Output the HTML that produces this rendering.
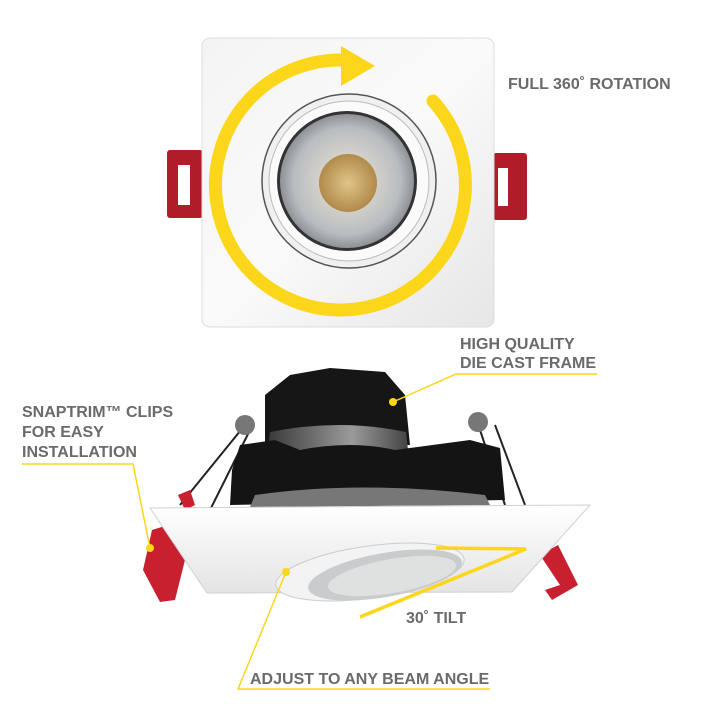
<!DOCTYPE html>
<html><head><meta charset="utf-8"><style>
html,body{margin:0;padding:0;background:#fff;width:720px;height:720px;overflow:hidden}
svg text{font-family:"Liberation Sans",Arial,sans-serif;font-weight:bold;fill:#6a6a6a;font-size:16px}
</style></head><body>
<svg width="720" height="720" viewBox="0 0 720 720" xmlns="http://www.w3.org/2000/svg">
<defs>
<linearGradient id="pl" x1="0" y1="0" x2="1" y2="1"><stop offset="0" stop-color="#f4f4f4"/><stop offset="0.5" stop-color="#fafafa"/><stop offset="1" stop-color="#e6e6e6"/></linearGradient>
<radialGradient id="lens" cx="0.5" cy="0.5" r="0.5"><stop offset="0.35" stop-color="#d8d4cc"/><stop offset="0.8" stop-color="#b8bcc0"/><stop offset="1" stop-color="#8e9296"/></radialGradient>
<radialGradient id="cob" cx="0.5" cy="0.5" r="0.5"><stop offset="0" stop-color="#e0c48a"/><stop offset="1" stop-color="#b08a4a"/></radialGradient>
<linearGradient id="pl2" x1="0" y1="0" x2="0" y2="1"><stop offset="0" stop-color="#ffffff"/><stop offset="1" stop-color="#e4e4e4"/></linearGradient>
<linearGradient id="dome" x1="0" y1="0" x2="1" y2="0"><stop offset="0" stop-color="#3a3a3a"/><stop offset="0.6" stop-color="#9a9a9a"/><stop offset="1" stop-color="#444"/></linearGradient>
</defs>
<rect x="167" y="150" width="36" height="68" rx="3" fill="#b01c2a"/>
<rect x="178" y="165" width="12" height="40" fill="#fff"/>
<rect x="493" y="153" width="34" height="67" rx="3" fill="#b01c2a"/>
<rect x="498" y="168" width="10" height="38" fill="#fff"/>
<rect x="202" y="38" width="292" height="289" rx="8" fill="url(#pl)" stroke="#dcdcdc"/>
<circle cx="349" cy="181" r="87" fill="#f0f0f0" stroke="#555" stroke-width="1.5"/>
<circle cx="349" cy="181" r="80" fill="#fafafa" stroke="#bbb"/>
<circle cx="347" cy="181" r="70" fill="#333"/>
<circle cx="347" cy="181" r="67" fill="url(#lens)"/>
<circle cx="348" cy="183" r="29" fill="url(#cob)"/>
<path d="M 433 101 A 125 125 0 1 1 342 60" fill="none" stroke="#fcd61a" stroke-width="13" stroke-linecap="round"/>
<polygon points="341,46 375,66 341,86" fill="#fcd61a"/>
<text x="508" y="89">FULL 360˚ ROTATION</text>
<line x1="245" y1="425" x2="180" y2="505" stroke="#222" stroke-width="2"/>
<line x1="250" y1="430" x2="210" y2="510" stroke="#222" stroke-width="2"/>
<line x1="495" y1="425" x2="525" y2="505" stroke="#222" stroke-width="2"/>
<line x1="480" y1="430" x2="505" y2="505" stroke="#222" stroke-width="2"/>
<circle cx="245" cy="425" r="10" fill="#777"/>
<circle cx="478" cy="422" r="10" fill="#777"/>
<path d="M265 395 L290 375 L330 368 L385 372 L405 395 L410 445 L265 445 Z" fill="#161616"/>
<path d="M270 432 Q340 418 406 432 L408 450 L268 450 Z" fill="url(#dome)"/>
<path d="M232 470 L240 445 L275 440 L300 450 Q350 440 395 450 L470 440 L500 448 L505 500 L230 505 Z" fill="#141414"/>
<path d="M255 495 Q360 480 485 495 L490 505 L250 507 Z" fill="#777"/>
<path d="M178 495 L190 490 L195 505 L185 510 Z" fill="#c8202e"/>
<path d="M152 530 L165 526 L185 560 L175 600 L160 602 L143 570 Z" fill="#c8202e"/>
<path d="M540 555 L558 545 L578 585 L552 600 L545 590 L560 585 Z" fill="#c8202e"/>
<polygon points="150,508 590,505 512,592 207,593" fill="url(#pl2)" stroke="#d0d0d0"/>
<ellipse cx="370" cy="572" rx="95" ry="26" transform="rotate(-8 370 572)" fill="#f3f3f3" stroke="#ccc"/>
<ellipse cx="385" cy="575" rx="78" ry="22" transform="rotate(-10 385 575)" fill="#c9cbcc"/>
<ellipse cx="392" cy="576" rx="65" ry="17" transform="rotate(-10 392 576)" fill="#dfe0e0"/>
<text x="460" y="349">HIGH QUALITY</text>
<text x="460" y="368">DIE CAST FRAME</text>
<polyline points="597,374 456,374 393,402" fill="none" stroke="#fcd61a" stroke-width="1.5"/>
<circle cx="393" cy="402" r="4" fill="#fcd61a"/>
<text x="22" y="417">SNAPTRIM™ CLIPS</text>
<text x="22" y="437">FOR EASY</text>
<text x="22" y="457">INSTALLATION</text>
<polyline points="22,464 133,464 150,548" fill="none" stroke="#fcd61a" stroke-width="1.5"/>
<circle cx="150" cy="548" r="4" fill="#fcd61a"/>
<polyline points="436,548 526,549 360,617" fill="none" stroke="#fcd61a" stroke-width="3.5"/>
<text x="406" y="623">30˚ TILT</text>
<text x="250" y="684">ADJUST TO ANY BEAM ANGLE</text>
<polyline points="490,689 238,689 286,572" fill="none" stroke="#fcd61a" stroke-width="1.5"/>
<circle cx="286" cy="572" r="4" fill="#fcd61a"/>
</svg>
</body></html>
